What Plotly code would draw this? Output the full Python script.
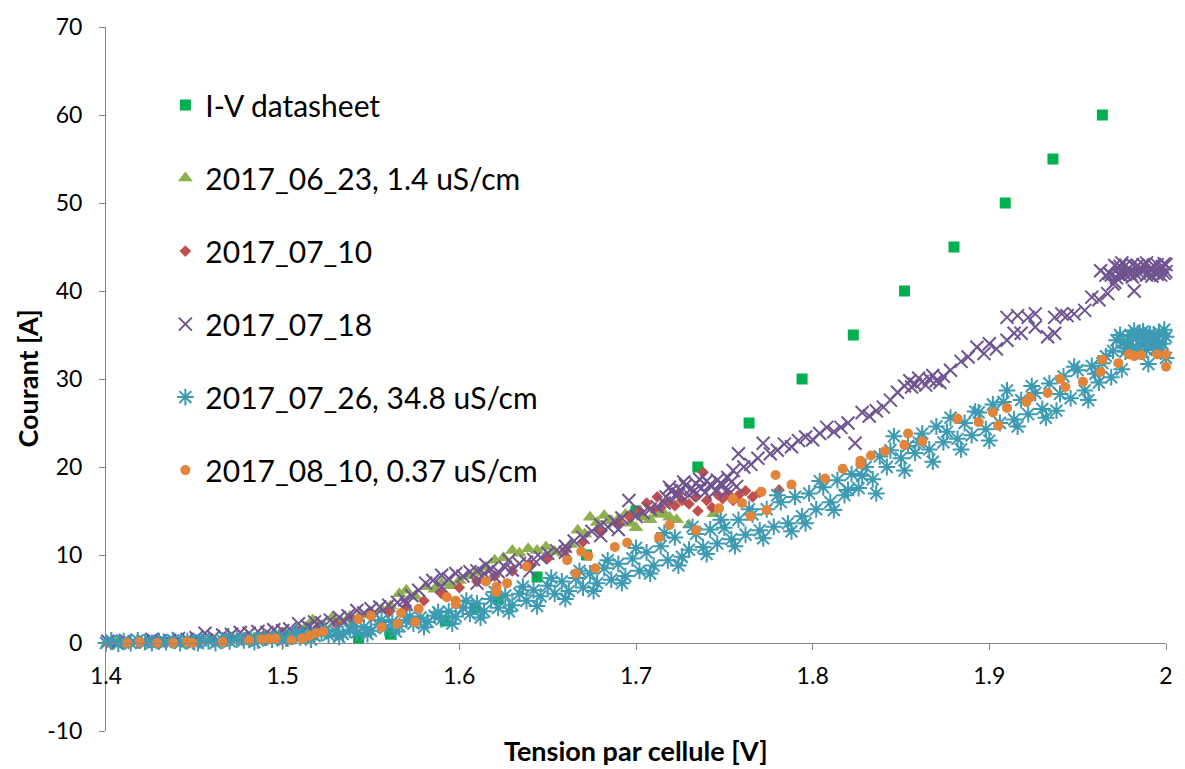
import plotly.graph_objects as go

# ---------------- data ----------------
DS_X = [1.543, 1.561, 1.592, 1.609, 1.622, 1.644, 1.672, 1.700, 1.735, 1.764, 1.794, 1.823, 1.852, 1.880, 1.909, 1.936, 1.964]
DS_Y = [0.5, 1, 2.5, 4, 5, 7.5, 10, 15, 20, 25, 30, 35, 40, 45, 50, 55, 60]

X_0623 = [1.401, 1.406, 1.412, 1.418, 1.424, 1.430, 1.436, 1.442, 1.448, 1.454, 1.460, 1.466, 1.472, 1.478, 1.484,
          1.490, 1.496, 1.502, 1.508, 1.513, 1.517, 1.522, 1.528, 1.533, 1.538, 1.544, 1.550, 1.556, 1.561, 1.566,
          1.570, 1.575, 1.581, 1.586, 1.590, 1.595, 1.600, 1.605, 1.610, 1.615, 1.620, 1.625, 1.630, 1.634, 1.639,
          1.644, 1.649, 1.654, 1.659, 1.663, 1.667, 1.671, 1.674, 1.678, 1.682, 1.686, 1.690, 1.694, 1.697, 1.700,
          1.704, 1.708, 1.712, 1.716, 1.719, 1.723, 1.730, 1.744]
Y_0623 = [0.0, 0.2, 0.0, 0.1, 0.3, 0.0, 0.2, 0.1, 0.3, 0.2, 0.4, 0.3, 0.5, 0.4, 0.6,
          0.8, 0.9, 1.1, 1.4, 1.8, 2.6, 2.0, 2.9, 2.5, 3.0, 3.2, 3.5, 3.8, 4.2, 5.6,
          6.0, 5.3, 6.4, 6.1, 6.8, 6.5, 7.1, 7.6, 8.0, 8.6, 9.4, 9.7, 10.5, 10.2, 10.7,
          10.5, 10.9, 10.4, 10.2, 11.2, 12.8, 12.4, 14.3, 13.7, 14.5, 13.9, 14.1, 14.6, 13.6, 13.1,
          14.3, 14.0, 14.6, 14.7, 14.3, 14.0, 13.4, 14.7]

X_0710 = [1.401, 1.410, 1.420, 1.430, 1.440, 1.450, 1.460, 1.470, 1.480, 1.490, 1.500, 1.510, 1.520, 1.530, 1.540,
          1.550, 1.560, 1.570, 1.580, 1.590, 1.600, 1.610, 1.620, 1.630, 1.640, 1.650, 1.660, 1.670, 1.680, 1.690,
          1.696, 1.702, 1.706, 1.710, 1.714, 1.718, 1.722, 1.726, 1.730, 1.734, 1.738, 1.740, 1.743, 1.746, 1.749,
          1.752, 1.755, 1.758, 1.762, 1.766, 1.770, 1.781, 1.712, 1.724, 1.735]
Y_0710 = [0.1, 0.2, 0.1, 0.3, 0.2, 0.4, 0.5, 0.7, 0.8, 1.0, 1.2, 1.5, 1.8, 2.2, 2.6,
          3.0, 3.5, 4.1, 4.8, 5.6, 6.3, 7.0, 7.6, 8.2, 8.9, 9.6, 10.5, 11.5, 12.6, 13.6,
          14.4, 15.0, 15.9, 15.2, 15.4, 16.0, 15.6, 16.2, 15.8, 16.6, 19.4, 16.2, 15.4, 16.9, 16.4,
          17.0, 16.2, 16.8, 17.3, 16.6, 17.1, 17.4, 16.6, 17.0, 15.0]

X_0718 = [1.401, 1.406, 1.411, 1.416, 1.421, 1.426, 1.431, 1.436, 1.441, 1.446, 1.451, 1.456, 1.461, 1.466, 1.471,
          1.476, 1.481, 1.486, 1.491, 1.495, 1.500, 1.504, 1.509, 1.514, 1.518, 1.522, 1.527, 1.532, 1.537, 1.542,
          1.546, 1.550, 1.555, 1.560, 1.565, 1.569, 1.573, 1.577, 1.581, 1.585, 1.590, 1.594, 1.598, 1.602, 1.606,
          1.610, 1.614, 1.618, 1.622, 1.626, 1.630, 1.634, 1.638, 1.642, 1.646, 1.650, 1.655, 1.660, 1.665, 1.670,
          1.675, 1.680, 1.684, 1.688, 1.692, 1.696, 1.700, 1.704, 1.708, 1.712, 1.716, 1.719, 1.722, 1.725, 1.728,
          1.731, 1.734, 1.737, 1.740, 1.743, 1.746, 1.749, 1.752, 1.755, 1.758, 1.761, 1.765, 1.769, 1.772, 1.776,
          1.780, 1.784, 1.788, 1.792, 1.796, 1.800, 1.804, 1.808, 1.812, 1.816, 1.820, 1.824, 1.828, 1.832, 1.836,
          1.840, 1.844, 1.848, 1.852, 1.855, 1.858, 1.862, 1.866, 1.870, 1.874, 1.878, 1.884, 1.888, 1.893, 1.897,
          1.900, 1.904, 1.910, 1.910, 1.914, 1.916, 1.918, 1.922, 1.926, 1.926, 1.933, 1.937, 1.937, 1.941, 1.944,
          1.948, 1.954, 1.958, 1.962, 1.967, 1.970, 1.982, 1.963, 1.968, 1.971, 1.973, 1.975, 1.977, 1.979, 1.981,
          1.983, 1.985, 1.987, 1.989, 1.991, 1.993, 1.995, 1.997, 1.999, 2.000, 1.972, 1.978, 1.984, 1.990, 1.996,
          1.966, 1.974, 1.980, 1.986, 1.992, 1.998,
          1.724, 1.727, 1.730, 1.733, 1.736, 1.739, 1.742, 1.745, 1.748, 1.751, 1.720, 1.717, 1.754, 1.757,
          1.856, 1.860, 1.864, 1.868, 1.872,
          1.969, 1.971, 1.975, 1.977, 1.981, 1.983, 1.987, 1.989, 1.993, 1.995, 1.997, 1.999, 2.000, 1.985, 1.979, 1.973,
          1.590, 1.610, 1.620, 1.640, 1.660, 1.680, 1.690, 1.615, 1.628, 1.570, 1.553, 1.517, 1.535]
Y_0718 = [0.2, 0.0, 0.3, 0.1, 0.2, 0.4, 0.2, 0.3, 0.5, 0.4, 0.6, 1.1, 0.7, 0.9, 1.0,
          1.2, 1.1, 1.3, 1.2, 1.5, 1.4, 1.6, 2.2, 1.9, 2.4, 2.3, 2.6, 2.9, 3.1, 3.7,
          3.4, 3.9, 4.1, 4.3, 4.6, 4.9, 5.4, 6.0, 6.8, 7.1, 7.7, 7.3, 7.9, 7.6, 8.1,
          8.2, 7.9, 8.4, 8.1, 8.6, 8.3, 9.0, 9.2, 9.5, 9.7, 10.2, 10.5, 11.0, 11.6, 12.0,
          12.7, 13.4, 13.2, 13.8, 14.2, 16.2, 14.4, 14.8, 15.2, 15.5, 15.9, 17.7, 16.8, 17.4, 17.9,
          17.5, 18.1, 17.6, 18.4, 17.8, 18.5, 17.9, 18.8, 19.6, 21.5, 20.0, 20.3, 21.0, 22.7, 21.5,
          21.9, 22.6, 22.3, 23.0, 23.4, 23.1, 23.8, 24.5, 24.0, 24.5, 25.0, 22.7, 26.2, 25.8, 26.4,
          26.8, 27.6, 28.5, 29.2, 29.8, 29.4, 29.7, 30.0, 29.8, 30.3, 31.0, 32.0, 32.5, 33.6, 32.9,
          34.0, 33.4, 34.4, 37.0, 35.2, 37.2, 35.2, 37.0, 35.9, 37.4, 34.8, 35.2, 37.0, 37.4, 37.2,
          37.4, 37.8, 39.3, 39.0, 39.7, 40.8, 40.0, 42.3, 42.0, 41.0, 42.6, 41.7, 42.9, 42.1, 41.6,
          42.7, 42.0, 43.0, 41.8, 42.5, 42.9, 41.9, 42.6, 43.1, 42.2, 41.5, 42.4, 42.9, 42.0, 42.3,
          41.8, 42.8, 41.9, 42.5, 41.7, 42.8,
          16.9, 18.3, 16.8, 17.3, 18.6, 17.1, 18.0, 17.3, 18.2, 17.2, 17.3, 16.6, 18.3, 17.8,
          29.1, 30.1, 29.3, 30.4, 29.6,
          41.8, 42.9, 43.2, 41.9, 43.0, 41.9, 42.3, 43.2, 42.2, 43.0, 41.8, 42.0, 43.0, 42.6, 42.6, 41.9,
          6.4, 6.8, 7.5, 8.2, 10.3, 12.2, 12.9, 8.9, 9.4, 4.4, 3.2, 1.6, 2.4]

X_0726 = [1.400, 1.403, 1.407, 1.410, 1.414, 1.418, 1.422, 1.426, 1.430, 1.434, 1.438, 1.442, 1.446, 1.450, 1.454,
          1.458, 1.462, 1.466, 1.470, 1.474, 1.478, 1.482, 1.486, 1.490, 1.494, 1.498, 1.502, 1.506, 1.510, 1.514,
          1.518, 1.522, 1.526, 1.530, 1.534, 1.538, 1.542, 1.546, 1.550, 1.554, 1.558, 1.562, 1.566, 1.570, 1.574,
          1.578, 1.582, 1.586, 1.590, 1.594, 1.598, 1.602, 1.606, 1.610, 1.614, 1.618, 1.622, 1.626, 1.630, 1.634,
          1.638, 1.642, 1.646, 1.650, 1.654, 1.658, 1.662, 1.666, 1.670, 1.674, 1.678, 1.682, 1.686, 1.690, 1.694,
          1.698, 1.702, 1.706, 1.710, 1.714, 1.718, 1.722, 1.726, 1.730, 1.734, 1.738, 1.742, 1.746, 1.750, 1.754,
          1.758, 1.762, 1.766, 1.770, 1.774, 1.778, 1.782, 1.786, 1.790, 1.794, 1.798, 1.802, 1.806, 1.810, 1.814,
          1.818, 1.822, 1.826, 1.830, 1.834, 1.838, 1.842, 1.846, 1.850, 1.854, 1.858, 1.862, 1.866, 1.870, 1.874,
          1.878, 1.882, 1.886, 1.890, 1.894, 1.898, 1.902, 1.906, 1.910, 1.914, 1.918, 1.922, 1.926, 1.930, 1.934,
          1.938, 1.942, 1.946, 1.950, 1.954, 1.958, 1.962, 1.966, 1.969, 1.972, 1.975, 1.978, 1.980, 1.983, 1.985,
          1.988, 1.990, 1.992, 1.994, 1.996, 1.998, 2.000, 2.000, 1.976, 1.982, 1.986, 1.993, 1.997,
          1.452, 1.468, 1.484, 1.500, 1.508, 1.516, 1.524, 1.532, 1.540, 1.548, 1.556, 1.564, 1.572, 1.580, 1.588,
          1.596, 1.604, 1.612, 1.620, 1.628, 1.636, 1.644, 1.652, 1.660, 1.668, 1.676, 1.684, 1.692, 1.700, 1.708,
          1.716, 1.724, 1.732, 1.740, 1.748, 1.756, 1.764, 1.772, 1.780, 1.788, 1.796, 1.804, 1.812, 1.820, 1.828,
          1.836, 1.844, 1.852, 1.860, 1.868, 1.876, 1.884, 1.892, 1.900, 1.908, 1.916, 1.924, 1.932, 1.940, 1.948,
          1.956, 1.964, 1.970, 1.974, 1.979, 1.981, 1.984, 1.987, 1.989, 1.991, 1.995, 1.999, 1.977, 1.993, 1.960]
Y_0726 = [0.0, 0.3, -0.1, 0.2, 0.0, 0.3, 0.1, 0.0, 0.2, 0.1, 0.3, 0.0, 0.2, 0.1, 0.3,
          0.2, 0.0, 0.3, 0.2, 0.4, 0.3, 0.5, 0.3, 0.6, 0.4, 0.7, 0.5, 0.8, 0.6, 1.0,
          0.8, 1.1, 0.9, 1.3, 1.0, 1.5, 1.2, 1.8, 1.4, 2.1, 1.7, 2.4, 1.9, 2.6, 2.2,
          2.9, 2.4, 3.1, 2.7, 3.6, 3.0, 4.0, 3.3, 4.5, 3.6, 5.0, 4.0, 5.4, 4.3, 5.6,
          4.8, 6.0, 5.3, 6.5, 5.6, 7.0, 5.9, 7.4, 6.3, 7.9, 6.8, 8.5, 7.2, 9.0, 7.6,
          9.6, 8.2, 10.3, 8.8, 11.0, 9.4, 12.0, 9.8, 10.6, 12.4, 10.9, 12.9, 11.3, 13.1, 11.8,
          14.0, 12.3, 14.6, 12.8, 15.2, 13.2, 16.0, 13.6, 16.6, 14.4, 17.0, 15.2, 17.7, 16.0, 18.5,
          16.8, 19.2, 17.6, 20.0, 18.6, 21.2, 20.0, 23.5, 21.0, 22.4, 21.6, 23.8, 22.0, 24.6, 22.8,
          25.6, 23.2, 25.0, 23.6, 26.2, 24.3, 27.1, 25.0, 28.7, 25.4, 27.6, 26.0, 28.4, 26.6, 29.5,
          26.4, 30.3, 27.8, 31.0, 28.7, 31.5, 29.6, 32.6, 30.2, 34.4, 31.1, 33.5, 34.9, 33.2, 35.2,
          34.1, 31.7, 34.6, 33.4, 35.3, 34.0, 32.4, 34.8, 34.2, 35.5, 33.8, 35.0, 33.1,
          0.0, 0.5, 0.1, 0.3, 1.2, 0.4, 1.5, 0.7, 1.9, 1.0, 2.6, 1.3, 3.0, 1.8, 3.5,
          2.2, 4.8, 2.9, 5.8, 3.6, 6.4, 4.2, 7.4, 5.0, 8.2, 5.9, 9.4, 6.8, 10.8, 7.9,
          12.5, 8.8, 13.2, 10.1, 14.0, 11.0, 15.2, 11.9, 16.8, 12.7, 13.6, 18.4, 15.1, 17.4, 19.0,
          17.0, 21.9, 19.6, 22.8, 20.6, 24.0, 22.0, 26.3, 23.0, 27.4, 24.6, 29.2, 25.6, 28.3, 31.4,
          27.6, 31.8, 33.2, 35.0, 34.5, 33.6, 34.8, 35.4, 33.3, 35.1, 34.4, 35.6, 33.1, 33.9, 30.6]

X_0810 = [1.412, 1.419, 1.429, 1.438, 1.446, 1.449, 1.466, 1.481, 1.488, 1.492, 1.496, 1.505, 1.511, 1.515, 1.519,
          1.523, 1.543, 1.550, 1.556, 1.565, 1.567, 1.575, 1.577, 1.593, 1.598, 1.598, 1.615, 1.621, 1.621, 1.627,
          1.638, 1.661, 1.666, 1.669, 1.673, 1.677, 1.688, 1.695, 1.713, 1.719, 1.734, 1.747, 1.755, 1.760, 1.765,
          1.771, 1.774, 1.779, 1.788, 1.807, 1.817, 1.827, 1.827, 1.833, 1.841, 1.852, 1.854, 1.862, 1.882, 1.894,
          1.902, 1.905, 1.910, 1.921, 1.923, 1.933, 1.940, 1.943, 1.953, 1.963, 1.964, 1.973, 1.979, 1.982, 1.986,
          1.995, 2.000, 2.000]
Y_0810 = [0.0, 0.1, 0.0, 0.0, 0.1, 0.0, 0.1, 0.3, 0.4, 0.5, 0.5, 0.3, 0.5, 0.8, 1.1,
          1.3, 2.7, 3.1, 1.8, 2.2, 3.4, 2.4, 3.9, 5.2, 4.8, 4.4, 7.0, 6.4, 5.8, 6.8,
          8.7, 9.4, 7.9, 10.4, 9.9, 8.5, 10.9, 11.4, 12.0, 13.4, 12.8, 15.3, 16.4, 15.9, 14.4,
          17.2, 15.1, 19.1, 18.0, 18.7, 19.8, 20.7, 20.3, 21.3, 21.8, 22.5, 23.8, 22.9, 25.5, 25.1,
          26.2, 24.7, 26.7, 27.4, 27.9, 28.4, 30.0, 29.1, 29.7, 30.8, 32.2, 31.8, 32.8, 32.6, 32.7,
          32.8, 32.8, 31.4]

X_TICKS = [1.4, 1.5, 1.6, 1.7, 1.8, 1.9, 2.0]
X_TICK_TEXT = ["1.4", "1.5", "1.6", "1.7", "1.8", "1.9", "2"]
Y_TICKS = [-10, 0, 10, 20, 30, 40, 50, 60, 70]
Y_TICK_TEXT = ["-10", "0", "10", "20", "30", "40", "50", "60", "70"]

NAMES = ["I-V datasheet", "2017_06_23, 1.4 uS/cm", "2017_07_10", "2017_07_18",
         "2017_07_26, 34.8 uS/cm", "2017_08_10, 0.37 uS/cm"]

# ---------------- figure ----------------
FONT = "Lato"
AXIS_COL = "#868686"

fig = go.Figure()

series = [
    (DS_X, DS_Y, dict(symbol="square", size=11, color="#00b050")),
    (X_0623, Y_0623, dict(symbol="triangle-up", size=13, color="#8fb04f")),
    (X_0710, Y_0710, dict(symbol="diamond", size=9, color="#c0504d")),
    (X_0718, Y_0718, dict(symbol="x-thin-open", size=13, color="#6f5491", line=dict(width=2, color="#6f5491"))),
    (X_0726, Y_0726, dict(symbol="asterisk-open", size=14, color="#3d9ab3", line=dict(width=2, color="#3d9ab3"))),
    (X_0810, Y_0810, dict(symbol="circle", size=10, color="#e2843a")),
]

for i, (xs, ys, mk) in enumerate(series):
    fig.add_trace(go.Scatter(
        x=xs, y=ys, mode="markers", name=NAMES[i], marker=mk,
        legendgroup="g%d" % i, cliponaxis=False, hoverinfo="x+y+name",
    ))

fig.update_layout(
    width=1185, height=769,
    margin=dict(l=106, r=13, t=27, b=38),
    paper_bgcolor="white", plot_bgcolor="white",
    font=dict(family=FONT, color="#000000"),
    showlegend=True,
    legend=dict(
        x=0.056, y=0.926, xanchor="left", yanchor="top",
        font=dict(family=FONT, size=30, color="#000000"),
        bgcolor="rgba(0,0,0,0)", tracegroupgap=31, itemsizing="trace",
    ),
    xaxis=dict(
        range=[1.4, 2.0], tickvals=X_TICKS, ticktext=X_TICK_TEXT,
        showgrid=False, zeroline=False, showline=True, linecolor=AXIS_COL, linewidth=1,
        ticks="outside", ticklen=6, tickcolor=AXIS_COL, tickwidth=1,
        tickfont=dict(family=FONT, size=23, color="#000000"),
        anchor="free", position=0.125, ticklabelstandoff=6,
    ),
    yaxis=dict(
        range=[-10, 70], tickvals=Y_TICKS, ticktext=Y_TICK_TEXT,
        showgrid=False, zeroline=False, showline=True, linecolor=AXIS_COL, linewidth=1,
        ticks="outside", ticklen=6, tickcolor=AXIS_COL, tickwidth=1,
        tickfont=dict(family=FONT, size=23, color="#000000"),
        ticklabelstandoff=12,
    ),
    annotations=[
        dict(text="<b>Tension par cellule [V]</b>", xref="paper", yref="paper",
             x=0.5, y=-0.027, xanchor="center", yanchor="middle", showarrow=False,
             font=dict(family=FONT, size=27, color="#000000")),
        dict(text="<b>Courant [A]</b>", xref="paper", yref="paper",
             x=-0.075, y=0.5, xanchor="center", yanchor="middle", showarrow=False,
             textangle=-90, font=dict(family=FONT, size=27, color="#000000")),
    ],
)

fig.write_html("out.html")
